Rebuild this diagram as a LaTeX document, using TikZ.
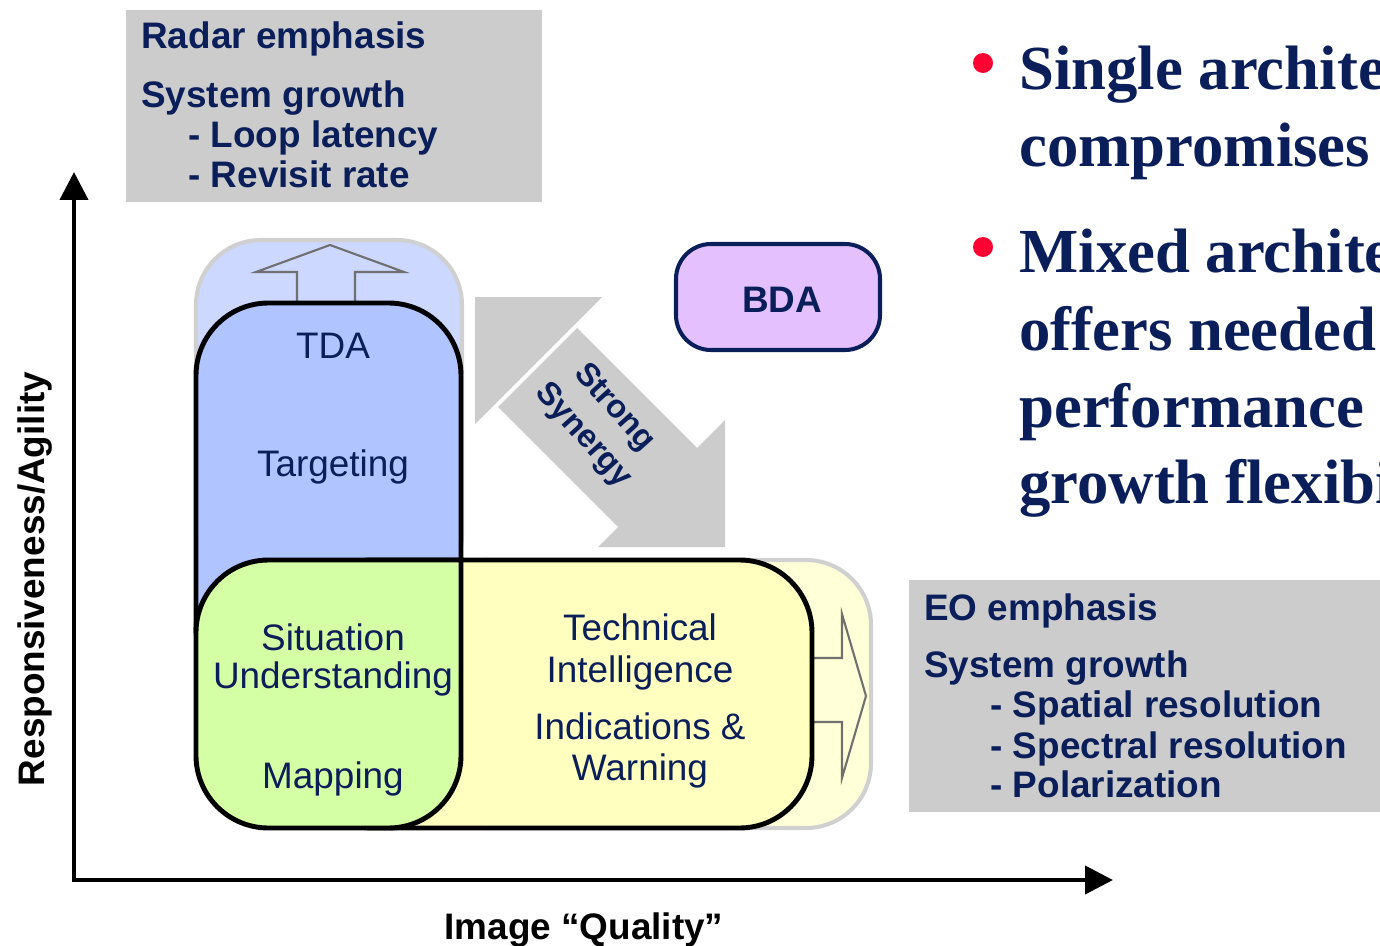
\documentclass[tikz,border=0pt]{standalone}
\usepackage{fontspec}
\setmainfont{Liberation Sans}
\newfontfamily\slidefont{Liberation Serif}
\usepackage{tikz}
\usetikzlibrary{positioning, arrows.meta}
\definecolor{navy}{RGB}{10,30,90}
\definecolor{panelgray}{RGB}{204,204,204}
\definecolor{rimgray}{RGB}{208,208,208}
\definecolor{arrowgray}{RGB}{112,112,112}
\definecolor{tdaouter}{RGB}{204,216,255}
\definecolor{tdafill}{RGB}{176,196,255}
\definecolor{sufill}{RGB}{212,255,164}
\definecolor{tifill}{RGB}{255,255,192}
\definecolor{eoouter}{RGB}{255,255,216}
\definecolor{bdafill}{RGB}{228,192,255}
\definecolor{bulletred}{RGB}{255,0,51}
\tikzset{
  panel/.style={fill=panelgray},
  growth/.style={draw=rimgray, line width=2.3pt, rounded corners=1.3cm},
  area/.style={draw=black, line width=2.8pt, rounded corners=1.45cm},
  growth arrow/.style={draw=arrowgray, line width=1.2pt},
  synergy/.style={fill=panelgray},
  axis/.style={line width=2.3pt, -{Triangle[length=0.56cm, width=0.56cm]}},
  area text/.style={font=\fontsize{21}{25}\selectfont, text=navy, anchor=base, inner sep=0pt},
  panel text/.style={font=\fontsize{21}{25}\selectfont\bfseries, text=navy, anchor=base west, inner sep=0pt},
  axis label/.style={font=\fontsize{21}{25}\selectfont\bfseries, anchor=base, inner sep=0pt},
  synergy text/.style={font=\fontsize{18.5}{22}\selectfont\bfseries, text=navy, rotate=-48, inner sep=0pt},
  bda box/.style={draw=navy, line width=2.3pt, fill=bdafill, rounded corners=0.7cm},
  bda text/.style={font=\fontsize{21}{25}\selectfont\bfseries, text=navy, anchor=base, inner sep=0pt},
  point/.style={circle, fill=bulletred, minimum size=0.4cm, inner sep=0pt},
  point text/.style={font=\fontsize{35.7}{43.6}\selectfont\slidefont\bfseries, text=navy, anchor=base west, inner sep=0pt},
}
\begin{document}
\begin{tikzpicture}[x=0.02cm, y=-0.02cm]
  \useasboundingbox[fill=white] (0,0) rectangle (1380,946);

  % emphasis panels
  \path[panel] (126,10) rectangle (542,202);
  \node[panel text] (RADAR) at (141,49) {Radar emphasis};
  \node[panel text] (RGROW) at (141,108) {System growth};
  \node[panel text] (LOOP) at (188,148) {- Loop latency};
  \node[panel text] (REVISIT) at (188,188) {- Revisit rate};

  \path[panel] (909,580) rectangle (1380,812);
  \node[panel text] (EO) at (924,620) {EO emphasis};
  \node[panel text] (EGROW) at (924,677) {System growth};
  \node[panel text] (SPATIAL) at (990,717) {- Spatial resolution};
  \node[panel text] (SPECTRAL) at (990,758) {- Spectral resolution};
  \node[panel text] (POLAR) at (990,797) {- Polarization};

  % growth envelopes
  \path[growth, fill=tdaouter] (196,240) rectangle (462,600);
  \draw[growth arrow] (297,303) -- (297,272) -- (256,272) -- (330,245) -- (404,272) -- (355,272) -- (355,303);
  \path[growth, fill=eoouter] (420,560) rectangle (871,828);
  \draw[growth arrow] (812,658) -- (842,658) -- (842,614) -- (866,696) -- (842,778) -- (842,722) -- (812,722);

  % mission areas
  \path[area, fill=tdafill] (196,303) rectangle (461,700);
  \path[area, fill=tifill] (300,560) rectangle (812,828);
  \path[area, fill=sufill] (461,600) [rounded corners=1.45cm] -- (461,828) -- (196,828) -- (196,560) [sharp corners] -- (461,560) -- cycle;

  \node[area text] (TDA) at (333,358) {TDA};
  \node[area text] (TARGET) at (333,476) {Targeting};
  \node[area text] (SITU) at (333,650) {Situation};
  \node[area text] (UNDER) at (333,688) {Understanding};
  \node[area text] (MAP) at (333,788) {Mapping};
  \node[area text] (TECH) at (640,640) {Technical};
  \node[area text] (INTEL) at (640,682) {Intelligence};
  \node[area text] (IND) at (640,739) {Indications \&};
  \node[area text] (WARN) at (640,780) {Warning};

  \path[bda box] (676,244) rectangle (880,350);
  \node[bda text] (BDA) at (782,312) {BDA};

  % synergy arrow
  \path[synergy] (475,297) -- (602,297) -- (475,424) -- cycle;
  \path[synergy] (577,328) -- (697,448) -- (725,420) -- (725,547) -- (598,547) -- (618,527) -- (498,407) -- cycle;
  \node[synergy text] (STRONG) at (614,408) {Strong};
  \node[synergy text] (SYNERGY) at (583,436) {Synergy};

  % axes
  \coordinate (YBASE) at (74,882);
  \coordinate (YTIP) at (74,172);
  \coordinate (XBASE) at (72,880);
  \coordinate (XTIP) at (1113,880);
  \draw[axis] (YBASE) -- (YTIP);
  \draw[axis] (XBASE) -- (XTIP);
  \node[axis label, rotate=90] (YLAB) at (44,579) {Responsiveness/Agility};
  \node[axis label] (XLAB) at (584,939) {Image “Quality”};

  % bullets
  \begin{scope}
    \clip (0,0) rectangle (1380,946);
    \node[point] (DOT1) at (983,63) {};
    \node[point] (DOT2) at (983,247) {};
    \node[point text] (SINGLE) at (1019,90) {Single architecture};
    \node[point text] (COMPR) at (1019,167) {compromises};
    \node[point text] (MIXED) at (1019,272) {Mixed architecture};
    \node[point text] (OFFERS) at (1019,350) {offers needed};
    \node[point text] (PERF) at (1019,427) {performance};
    \node[point text] (FLEX) at (1019,503) {growth flexibility};
  \end{scope}
\end{tikzpicture}
\end{document}
